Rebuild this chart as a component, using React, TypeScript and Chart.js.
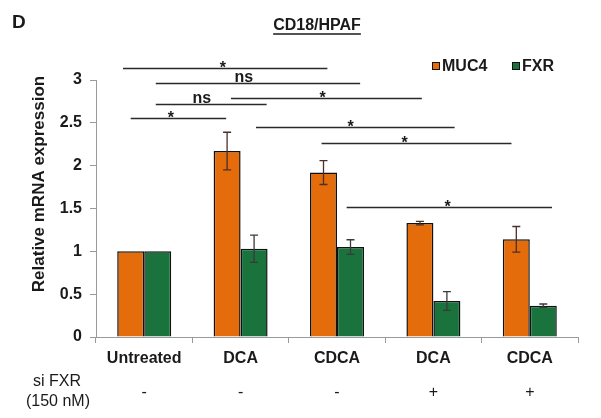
import React, { useEffect, useRef } from "react";
import { Chart, registerables } from "chart.js";

Chart.register(...registerables);

const categories = ["Untreated", "DCA", "CDCA", "DCA", "CDCA"];
const siFxrRow = ["-", "-", "-", "+", "+"];
const muc4Values = [1.0, 2.17, 1.92, 1.33, 1.14];
const muc4Errors = [0, 0.22, 0.14, 0.02, 0.15];
const fxrValues = [1.0, 1.03, 1.05, 0.42, 0.365];
const fxrErrors = [0, 0.16, 0.085, 0.11, 0.02];
const yTicks = [0, 0.5, 1, 1.5, 2, 2.5, 3];

// significance brackets: [start category index, end category index, y value, label, label category index]
const bracketStart = [-0.22, 0.12, 0.12, 0.9, -0.14, 1.16, 1.84, 2.1];
const bracketEnd = [1.9, 2.24, 1.27, 2.88, 0.85, 3.22, 3.81, 4.23];
const bracketY = [3.135, 2.96, 2.72, 2.79, 2.555, 2.454, 2.26, 1.52];
const bracketLabel = ["*", "ns", "ns", "*", "*", "*", "*", "*"];
const bracketLabelX = [0.816, 1.034, 0.598, 1.852, 0.277, 2.142, 2.702, 3.148];

const ORANGE = "#E46C0A";
const GREEN = "#1A733C";
const FONT = "'Liberation Sans', Arial, Helvetica, sans-serif";

export default function App() {
  const ref = useRef<HTMLCanvasElement | null>(null);

  useEffect(() => {
    if (!ref.current) return;
    const errs = [muc4Errors, fxrErrors];
    const errColors = ["#4a3028", "#3a3a3a"];

    const overlay = {
      id: "overlay",
      afterDatasetsDraw(chart: any) {
        const ctx = chart.ctx;
        const y = chart.scales.y;
        ctx.save();
        chart.data.datasets.forEach((ds: any, di: number) => {
          const meta = chart.getDatasetMeta(di);
          meta.data.forEach((bar: any, i: number) => {
            const e = errs[di][i];
            if (!e) return;
            const v = ds.data[i];
            const yt = y.getPixelForValue(v + e);
            const yb = y.getPixelForValue(v - e);
            ctx.strokeStyle = errColors[di];
            ctx.lineWidth = 1.3;
            ctx.beginPath();
            ctx.moveTo(bar.x, yt);
            ctx.lineTo(bar.x, yb);
            ctx.moveTo(bar.x - 4, yt);
            ctx.lineTo(bar.x + 4, yt);
            ctx.moveTo(bar.x - 4, yb);
            ctx.lineTo(bar.x + 4, yb);
            ctx.stroke();
          });
        });
        ctx.restore();
      },
      afterDraw(chart: any) {
        const ctx = chart.ctx;
        const x = chart.scales.x;
        const y = chart.scales.y;
        ctx.save();
        // brackets
        ctx.strokeStyle = "#2a2a2a";
        ctx.fillStyle = "#1a1a1a";
        ctx.lineWidth = 1.5;
        for (let i = 0; i < bracketStart.length; i++) {
          const py = Math.round(y.getPixelForValue(bracketY[i])) + 0.5;
          ctx.beginPath();
          ctx.moveTo(x.getPixelForValue(bracketStart[i]), py);
          ctx.lineTo(x.getPixelForValue(bracketEnd[i]), py);
          ctx.stroke();
          const lx = x.getPixelForValue(bracketLabelX[i]);
          ctx.textAlign = "center";
          ctx.textBaseline = "alphabetic";
          ctx.font = `bold 16px ${FONT}`;
          if (bracketLabel[i] === "*") {
            ctx.fillText("*", lx, py + 4);
          } else {
            ctx.fillText(bracketLabel[i], lx, py - 2);
          }
        }
        // si FXR row
        ctx.fillStyle = "#1a1a1a";
        ctx.font = `16px ${FONT}`;
        ctx.textAlign = "center";
        ctx.textBaseline = "middle";
        for (let i = 0; i < categories.length; i++) {
          ctx.fillText(siFxrRow[i], x.getPixelForValue(i), 393);
        }
        ctx.fillText("si FXR", 57, 382);
        ctx.fillText("(150 nM)", 58, 402);
        // title
        ctx.font = `bold 16px ${FONT}`;
        ctx.fillText("CD18/HPAF", 317, 26);
        const tw = ctx.measureText("CD18/HPAF").width;
        ctx.strokeStyle = "#1a1a1a";
        ctx.lineWidth = 1.5;
        ctx.beginPath();
        ctx.moveTo(317 - tw / 2, 34);
        ctx.lineTo(317 + tw / 2, 34);
        ctx.stroke();
        // panel letter
        ctx.textAlign = "left";
        ctx.font = `bold 19px ${FONT}`;
        ctx.fillText("D", 12, 23);
        // y title
        ctx.save();
        ctx.translate(39, 184);
        ctx.rotate(-Math.PI / 2);
        ctx.textAlign = "center";
        ctx.font = `bold 17px ${FONT}`;
        ctx.fillText("Relative mRNA expression", 0, 0);
        ctx.restore();
        // legend
        const items = [
          { label: "MUC4", color: ORANGE, x: 432 },
          { label: "FXR", color: GREEN, x: 512 },
        ];
        ctx.font = `bold 16px ${FONT}`;
        ctx.textAlign = "left";
        ctx.textBaseline = "middle";
        items.forEach((it) => {
          ctx.fillStyle = it.color;
          ctx.fillRect(it.x, 62, 7, 7);
          ctx.strokeStyle = "#111";
          ctx.lineWidth = 1;
          ctx.strokeRect(it.x + 0.5, 62.5, 7, 7);
          ctx.fillStyle = "#1a1a1a";
          ctx.fillText(it.label, it.x + 10, 67);
        });
        ctx.restore();
      },
    };

    const chart = new Chart(ref.current, {
      type: "bar",
      data: {
        labels: categories,
        datasets: [
          {
            label: "MUC4",
            data: muc4Values,
            backgroundColor: ORANGE,
            borderColor: "#111",
            borderWidth: 1.5,
            categoryPercentage: 0.56,
            barPercentage: 1.0,
          },
          {
            label: "FXR",
            data: fxrValues,
            backgroundColor: GREEN,
            borderColor: "#111",
            borderWidth: 1.5,
            categoryPercentage: 0.56,
            barPercentage: 1.0,
          },
        ],
      },
      options: {
        responsive: false,
        animation: false,
        layout: { padding: { top: 80, right: 23, left: 0, bottom: 0 } },
        plugins: {
          legend: { display: false },
          title: { display: false },
          tooltip: { enabled: false },
        },
        scales: {
          x: {
            afterFit: (s: any) => {
              s.height = 81;
            },
            grid: {
              drawOnChartArea: false,
              drawTicks: true,
              tickLength: 6,
              color: "#9a9a9a",
              offset: true,
            },
            border: { display: true, color: "#9a9a9a", width: 1 },
            ticks: {
              color: "#1a1a1a",
              padding: 6,
              font: { family: FONT, size: 16, weight: "bold" },
            },
          },
          y: {
            min: 0,
            max: 3,
            afterFit: (s: any) => {
              s.width = 96;
            },
            afterBuildTicks: (s: any) => {
              s.ticks = yTicks.map((v) => ({ value: v }));
            },
            grid: {
              drawOnChartArea: false,
              drawTicks: true,
              tickLength: 6,
              color: "#9a9a9a",
            },
            border: { display: true, color: "#9a9a9a", width: 1 },
            ticks: {
              color: "#1a1a1a",
              padding: 8,
              font: { family: FONT, size: 16, weight: "bold" },
              callback: (v: any) => String(v),
            },
          },
        },
      },
      plugins: [overlay],
    } as any);

    return () => chart.destroy();
  }, []);

  return (
    <div style={{ position: "absolute", left: 0, top: 0, width: 601, height: 418, background: "#fff" }}>
      <canvas ref={ref} width={601} height={418} style={{ width: 601, height: 418, display: "block" }} />
    </div>
  );
}
